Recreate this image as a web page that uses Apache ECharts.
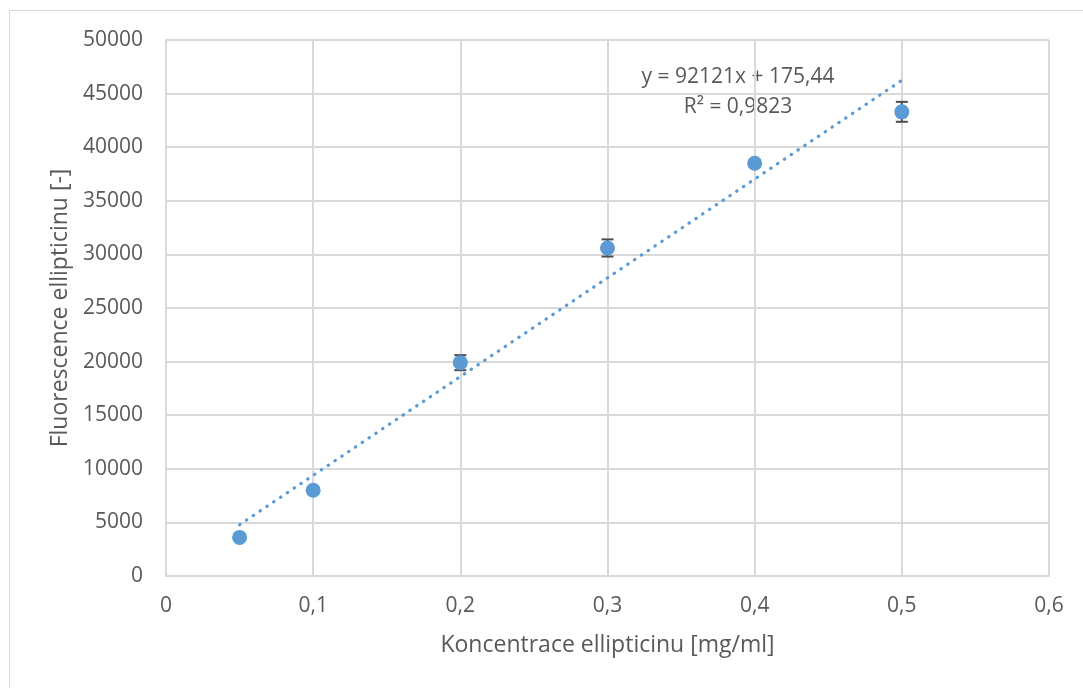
<!DOCTYPE html>
<html>
<head>
<meta charset="utf-8">
<script src="https://cdn.jsdelivr.net/npm/echarts@6/dist/echarts.min.js"></script>
<style>
html,body{margin:0;padding:0;background:#fff;}
#c{width:1083px;height:688px;}
</style>
</head>
<body>
<div id="c"></div>
<script>
// Data
var concentrations = [0.05, 0.1, 0.2, 0.3, 0.4, 0.5];
var fluorescence = [3600, 8000, 19900, 30600, 38500, 43300];
var errors = [200, 300, 700, 800, 300, 930];
var trendX = [0.05, 0.5];
var trendY = [4781, 46236];
var equationText = 'y = 92121x + 175,44';
var r2Text = 'R² = 0,9823';
var xTitle = 'Koncentrace ellipticinu [mg/ml]';
var yTitle = 'Fluorescence ellipticinu [-]';

var textColor = '#595959';
var gridColor = '#d9d9d9';
var pointColor = '#5B9BD5';
var fontFamily = '"Open Sans", "Liberation Sans", sans-serif';

var points = concentrations.map(function (x, i) { return [x, fluorescence[i]]; });
var errData = concentrations.map(function (x, i) { return [x, fluorescence[i] - errors[i], fluorescence[i] + errors[i]]; });
var trendData = trendX.map(function (x, i) { return [x, trendY[i]]; });

var chart = echarts.init(document.getElementById('c'));
chart.setOption({
  animation: false,
  backgroundColor: '#fff',
  grid: { left: 166, top: 40, right: 34, bottom: 112, containLabel: false },
  graphic: [
    { type: 'rect', shape: { x: 9.5, y: 10.5, width: 1100, height: 720 },
      style: { fill: 'none', stroke: gridColor, lineWidth: 1 }, z: -1 },
    { type: 'text', x: 738, y: 62, style: { text: equationText + '\n' + r2Text, fill: textColor,
      font: '21px ' + fontFamily, align: 'center', lineHeight: 30 } }
  ],
  xAxis: {
    type: 'value', min: 0, max: 0.6, interval: 0.1,
    name: xTitle, nameLocation: 'middle', nameGap: 58,
    nameTextStyle: { color: textColor, fontSize: 23, fontFamily: fontFamily },
    axisLine: { show: true, lineStyle: { color: gridColor, width: 2 } },
    axisTick: { show: false },
    axisLabel: { color: textColor, fontSize: 21, fontFamily: fontFamily, margin: 20,
      formatter: function (v) { return v === 0 ? '0' : v.toFixed(1).replace('.', ','); } },
    splitLine: { show: true, lineStyle: { color: gridColor, width: 2 } }
  },
  yAxis: {
    type: 'value', min: 0, max: 50000, interval: 5000,
    name: yTitle, nameLocation: 'middle', nameGap: 88, nameRotate: 90,
    nameTextStyle: { color: textColor, fontSize: 23, fontFamily: fontFamily },
    axisLine: { show: true, lineStyle: { color: gridColor, width: 2 } },
    axisTick: { show: false },
    axisLabel: { color: textColor, fontSize: 21, fontFamily: fontFamily, margin: 23,
      formatter: function (v) { return String(v); } },
    splitLine: { show: true, lineStyle: { color: gridColor, width: 2 } }
  },
  series: [
    {
      type: 'line', data: trendData, symbol: 'none', z: 2,
      lineStyle: { color: pointColor, width: 3.2, type: [0.5, 7.7], cap: 'round' }
    },
    {
      type: 'custom', data: errData, z: 3,
      renderItem: function (params, api) {
        var x = api.value(0);
        var lo = api.coord([x, api.value(1)]);
        var hi = api.coord([x, api.value(2)]);
        var hw = 6;
        var st = { stroke: '#4d4d4d', lineWidth: 2 };
        return { type: 'group', children: [
          { type: 'line', shape: { x1: lo[0], y1: lo[1], x2: hi[0], y2: hi[1] }, style: st },
          { type: 'line', shape: { x1: lo[0] - hw, y1: lo[1], x2: lo[0] + hw, y2: lo[1] }, style: st },
          { type: 'line', shape: { x1: hi[0] - hw, y1: hi[1], x2: hi[0] + hw, y2: hi[1] }, style: st }
        ] };
      }
    },
    {
      type: 'scatter', data: points, symbol: 'circle', symbolSize: 15, z: 4,
      itemStyle: { color: pointColor, opacity: 1 }
    }
  ]
});
</script>
</body>
</html>
